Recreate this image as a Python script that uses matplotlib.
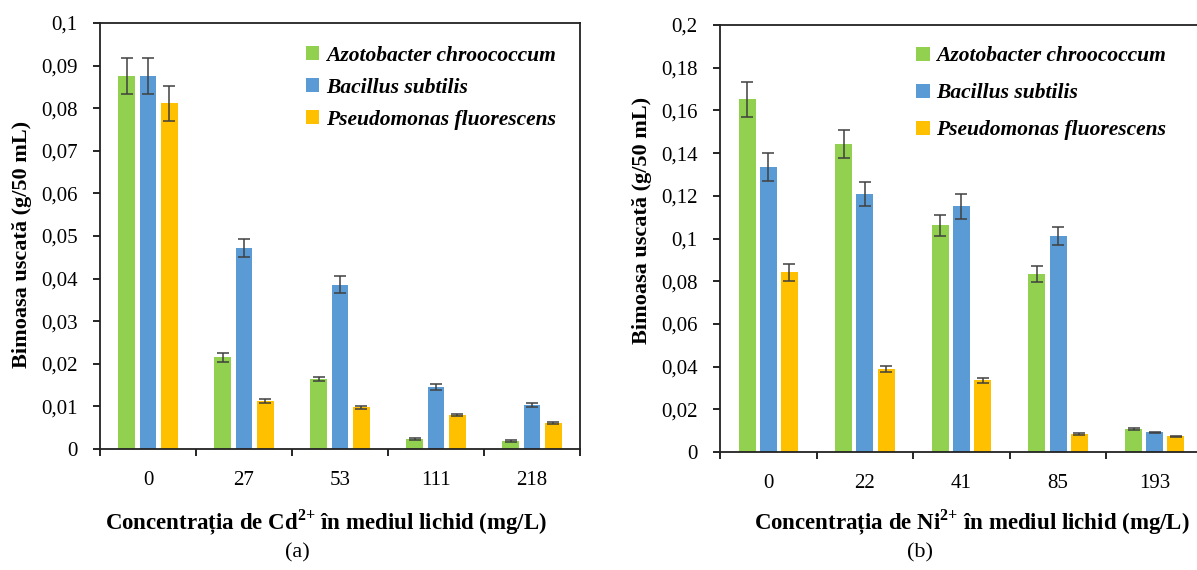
import numpy as np
import matplotlib
matplotlib.use("Agg")
import matplotlib.pyplot as plt
from matplotlib.patches import Patch
from matplotlib.ticker import FixedLocator, FuncFormatter

plt.rcParams["font.family"] = ["Liberation Serif", "DejaVu Serif"]
plt.rcParams["mathtext.fontset"] = "custom"
plt.rcParams["mathtext.rm"] = "Liberation Serif"
plt.rcParams["mathtext.bf"] = "Liberation Serif:bold"

series = ["Azotobacter chroococcum", "Bacillus subtilis", "Pseudomonas fluorescens"]
colors = ["#92D050", "#5B9BD5", "#FFC000"]

# (a) Cd2+
cd_conc = ["0", "27", "53", "111", "218"]
cd_azoto = [0.0876, 0.0215, 0.0164, 0.0023, 0.0018]
cd_bacil = [0.0876, 0.0472, 0.0386, 0.0145, 0.0103]
cd_pseudo = [0.0812, 0.0112, 0.0098, 0.0080, 0.0061]
cd_azoto_err = [0.0042, 0.0011, 0.0004, 0.0002, 0.0002]
cd_bacil_err = [0.0042, 0.0022, 0.0020, 0.0007, 0.0005]
cd_pseudo_err = [0.0041, 0.0005, 0.0003, 0.0003, 0.0003]

# (b) Ni2+
ni_conc = ["0", "22", "41", "85", "193"]
ni_azoto = [0.1653, 0.1443, 0.1061, 0.0833, 0.0106]
ni_bacil = [0.1335, 0.1208, 0.1150, 0.1011, 0.0092]
ni_pseudo = [0.0842, 0.0388, 0.0336, 0.0086, 0.0074]
ni_azoto_err = [0.0082, 0.0067, 0.0050, 0.0036, 0.0005]
ni_bacil_err = [0.0067, 0.0058, 0.0058, 0.0041, 0.0003]
ni_pseudo_err = [0.0039, 0.0014, 0.0011, 0.0005, 0.0003]


def comma(v, pos=None):
    return "{:g}".format(round(v, 4)).replace(".", ",")


def draw_panel(ax, cats, vals, errs, ymax, ystep, xlabel, xlab_pos, ylab_pos,
               leg_x, leg_y, leg_sp):
    x = np.arange(len(cats))
    width = 0.177
    step = 0.219
    for i, (v, e) in enumerate(zip(vals, errs)):
        ax.bar(x + (i - 1) * step, v, width, color=colors[i], zorder=2)
        ax.errorbar(x + (i - 1) * step, v, yerr=e, fmt="none", ecolor="#404040",
                    elinewidth=1.1, capsize=4.3, capthick=1.1, zorder=3)

    ax.set_xlim(-0.5, len(cats) - 0.5)
    ax.set_ylim(0, ymax)
    ax.set_yticks(np.arange(0, ymax + ystep / 2, ystep))
    ax.yaxis.set_major_formatter(FuncFormatter(comma))

    ax.xaxis.set_major_locator(FixedLocator(np.arange(-0.5, len(cats), 1.0)))
    ax.xaxis.set_major_formatter(FuncFormatter(lambda v, p: ""))
    ax.set_xticks(x, cats, minor=True)
    ax.tick_params(axis="x", which="major", direction="out", length=5, width=1.2)
    ax.tick_params(axis="x", which="minor", length=0, pad=16, labelsize=15)
    ax.tick_params(axis="y", direction="out", length=5, width=1.2, pad=11, labelsize=15)

    for s in ax.spines.values():
        s.set_linewidth(1.3)
        s.set_color("#222222")

    ax.set_xlabel(xlabel, fontsize=16.5, fontweight="bold")
    ax.xaxis.set_label_coords(*xlab_pos)
    ax.set_ylabel("Bimoasa uscată (g/50 mL)", fontsize=16, fontweight="bold")
    ax.yaxis.set_label_coords(*ylab_pos)

    handles = [Patch(facecolor=c, edgecolor="none") for c in colors]
    ax.legend(handles, series, loc="upper left", bbox_to_anchor=(leg_x, leg_y),
              frameon=False, borderpad=0, borderaxespad=0, handlelength=0.63,
              handleheight=0.63, handletextpad=0.3, labelspacing=leg_sp,
              prop={"family": ["Liberation Serif"], "weight": "bold", "style": "italic", "size": 15.5})


fig = plt.figure(figsize=(11.97, 5.70), dpi=100)
ax1 = fig.add_axes([100 / 1197, 121 / 570, 480 / 1197, 426 / 570])
ax2 = fig.add_axes([720 / 1197, 118 / 570, 483 / 1197, 427 / 570])

draw_panel(ax1, cd_conc, [cd_azoto, cd_bacil, cd_pseudo],
           [cd_azoto_err, cd_bacil_err, cd_pseudo_err], 0.1, 0.01,
           "Concentrația de Cd$^{\\mathbf{2{+}}}$ în mediul lichid (mg/L)",
           (0.471, -0.136), (-0.142, 0.481), 0.429, 0.946, 0.55)
draw_panel(ax2, ni_conc, [ni_azoto, ni_bacil, ni_pseudo],
           [ni_azoto_err, ni_bacil_err, ni_pseudo_err], 0.2, 0.02,
           "Concentrația de Ni$^{\\mathbf{2{+}}}$ în mediul lichid (mg/L)",
           (0.522, -0.129), (-0.141, 0.543), 0.406, 0.95, 0.79)

fig.text(297 / 1197, 1 - 553 / 570, "(a)", fontsize=16, ha="center", va="center")
fig.text(920 / 1197, 1 - 553 / 570, "(b)", fontsize=16, ha="center", va="center")

fig.savefig("out.png", dpi=100)
